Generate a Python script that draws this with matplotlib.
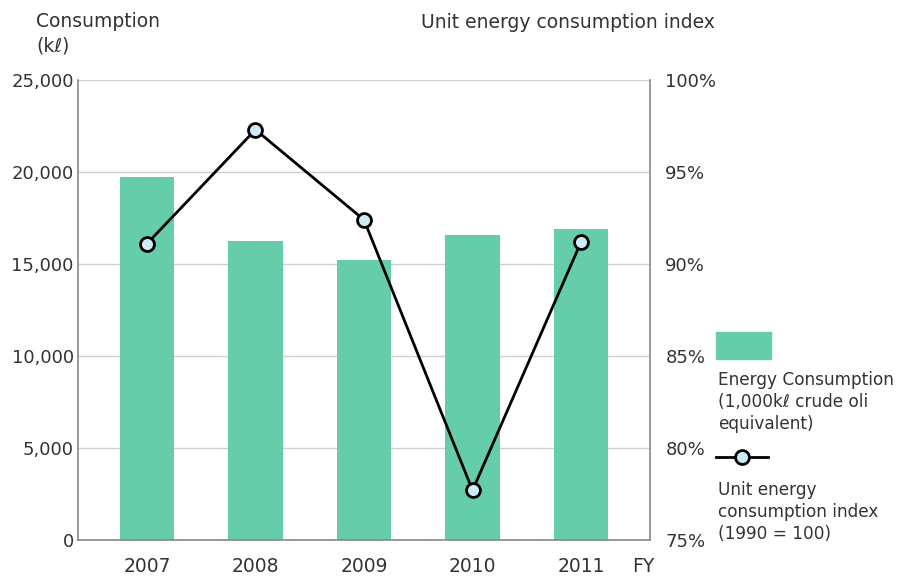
import matplotlib
matplotlib.use("Agg")
import matplotlib.pyplot as plt
from matplotlib.patches import Rectangle
from matplotlib.lines import Line2D

years = ["2007", "2008", "2009", "2010", "2011"]
consumption = [19750, 16250, 15200, 16600, 16900]
index_pct = [91.1, 97.3, 92.4, 77.7, 91.2]
left_ticks = [0, 5000, 10000, 15000, 20000, 25000]
right_ticks = [75, 80, 85, 90, 95, 100]

bar_color = "#66CDAA"
text_color = "#333333"
grid_color = "#CFCFCF"
spine_color = "#888888"

plt.rcParams['font.family'] = ['DejaVu Sans']

fig = plt.figure(figsize=(8.99, 5.76), dpi=100)
ax = fig.add_axes([78/899, 36/576, (650-78)/899, (540-80)/576])
x = list(range(len(years)))
ax.bar(x, consumption, width=0.5, color=bar_color, zorder=2)
ax.set_ylim(0, 25000)
ax.set_xlim(-0.635, 4.635)
ax.set_yticks(left_ticks)
ax.set_yticklabels([f"{v:,}" for v in left_ticks])
ax.set_xticks(x)
ax.set_xticklabels(years)
ax.tick_params(axis='y', length=0, labelsize=13, colors=text_color, pad=3)
ax.tick_params(axis='x', length=0, labelsize=13.5, colors=text_color, pad=12)
ax.grid(axis='y', color=grid_color, linewidth=1, zorder=0)
ax.set_axisbelow(True)
for s in ["top", "right"]:
    ax.spines[s].set_visible(False)
for s in ["left", "bottom"]:
    ax.spines[s].set_color(spine_color)
    ax.spines[s].set_linewidth(1.2)

ax2 = ax.twinx()
ax2.plot(x, index_pct, color="black", linewidth=2, marker="o", markersize=10,
         markerfacecolor="#CDEBF7", markeredgecolor="black", markeredgewidth=2, zorder=3)
ax2.set_ylim(75, 100)
ax2.set_yticks(right_ticks)
ax2.set_yticklabels([f"{v}%" for v in right_ticks])
ax2.tick_params(length=0, labelsize=13, colors=text_color, pad=11)
for s in ["top", "left", "bottom"]:
    ax2.spines[s].set_visible(False)
ax2.spines["right"].set_color(spine_color)
ax2.spines["right"].set_linewidth(1.2)

fig.text(36/899, 1 - 12/576, "Consumption\n(kℓ)", ha="left", va="top",
         fontsize=13.5, color=text_color, linespacing=1.35)
fig.text(715/899, 1 - 22/576, "Unit energy consumption index", ha="right", va="center",
         fontsize=13.5, color=text_color)
fig.text(632/899, 1 - 567/576, "FY", ha="left", va="center", fontsize=13.5, color=text_color)

# legend
fig.patches.append(Rectangle((716/899, 1 - 359/576), 55/899, 27/576,
                             transform=fig.transFigure, color=bar_color))
fig.text(718/899, 1 - 371/576, "Energy Consumption\n(1,000kℓ crude oli\nequivalent)",
         ha="left", va="top", fontsize=12.2, color=text_color, linespacing=1.3)
fig.lines.append(Line2D([716/899, 768/899], [1 - 457/576, 1 - 457/576],
                        transform=fig.transFigure, color="black", linewidth=2))
fig.lines.append(Line2D([742/899], [1 - 457/576], transform=fig.transFigure,
                        marker="o", markersize=10, markerfacecolor="#CDEBF7",
                        markeredgecolor="black", markeredgewidth=2, linestyle="none"))
fig.text(718/899, 1 - 481/576, "Unit energy\nconsumption index\n(1990 = 100)",
         ha="left", va="top", fontsize=12.2, color=text_color, linespacing=1.3)

fig.savefig("out.png", dpi=100)
